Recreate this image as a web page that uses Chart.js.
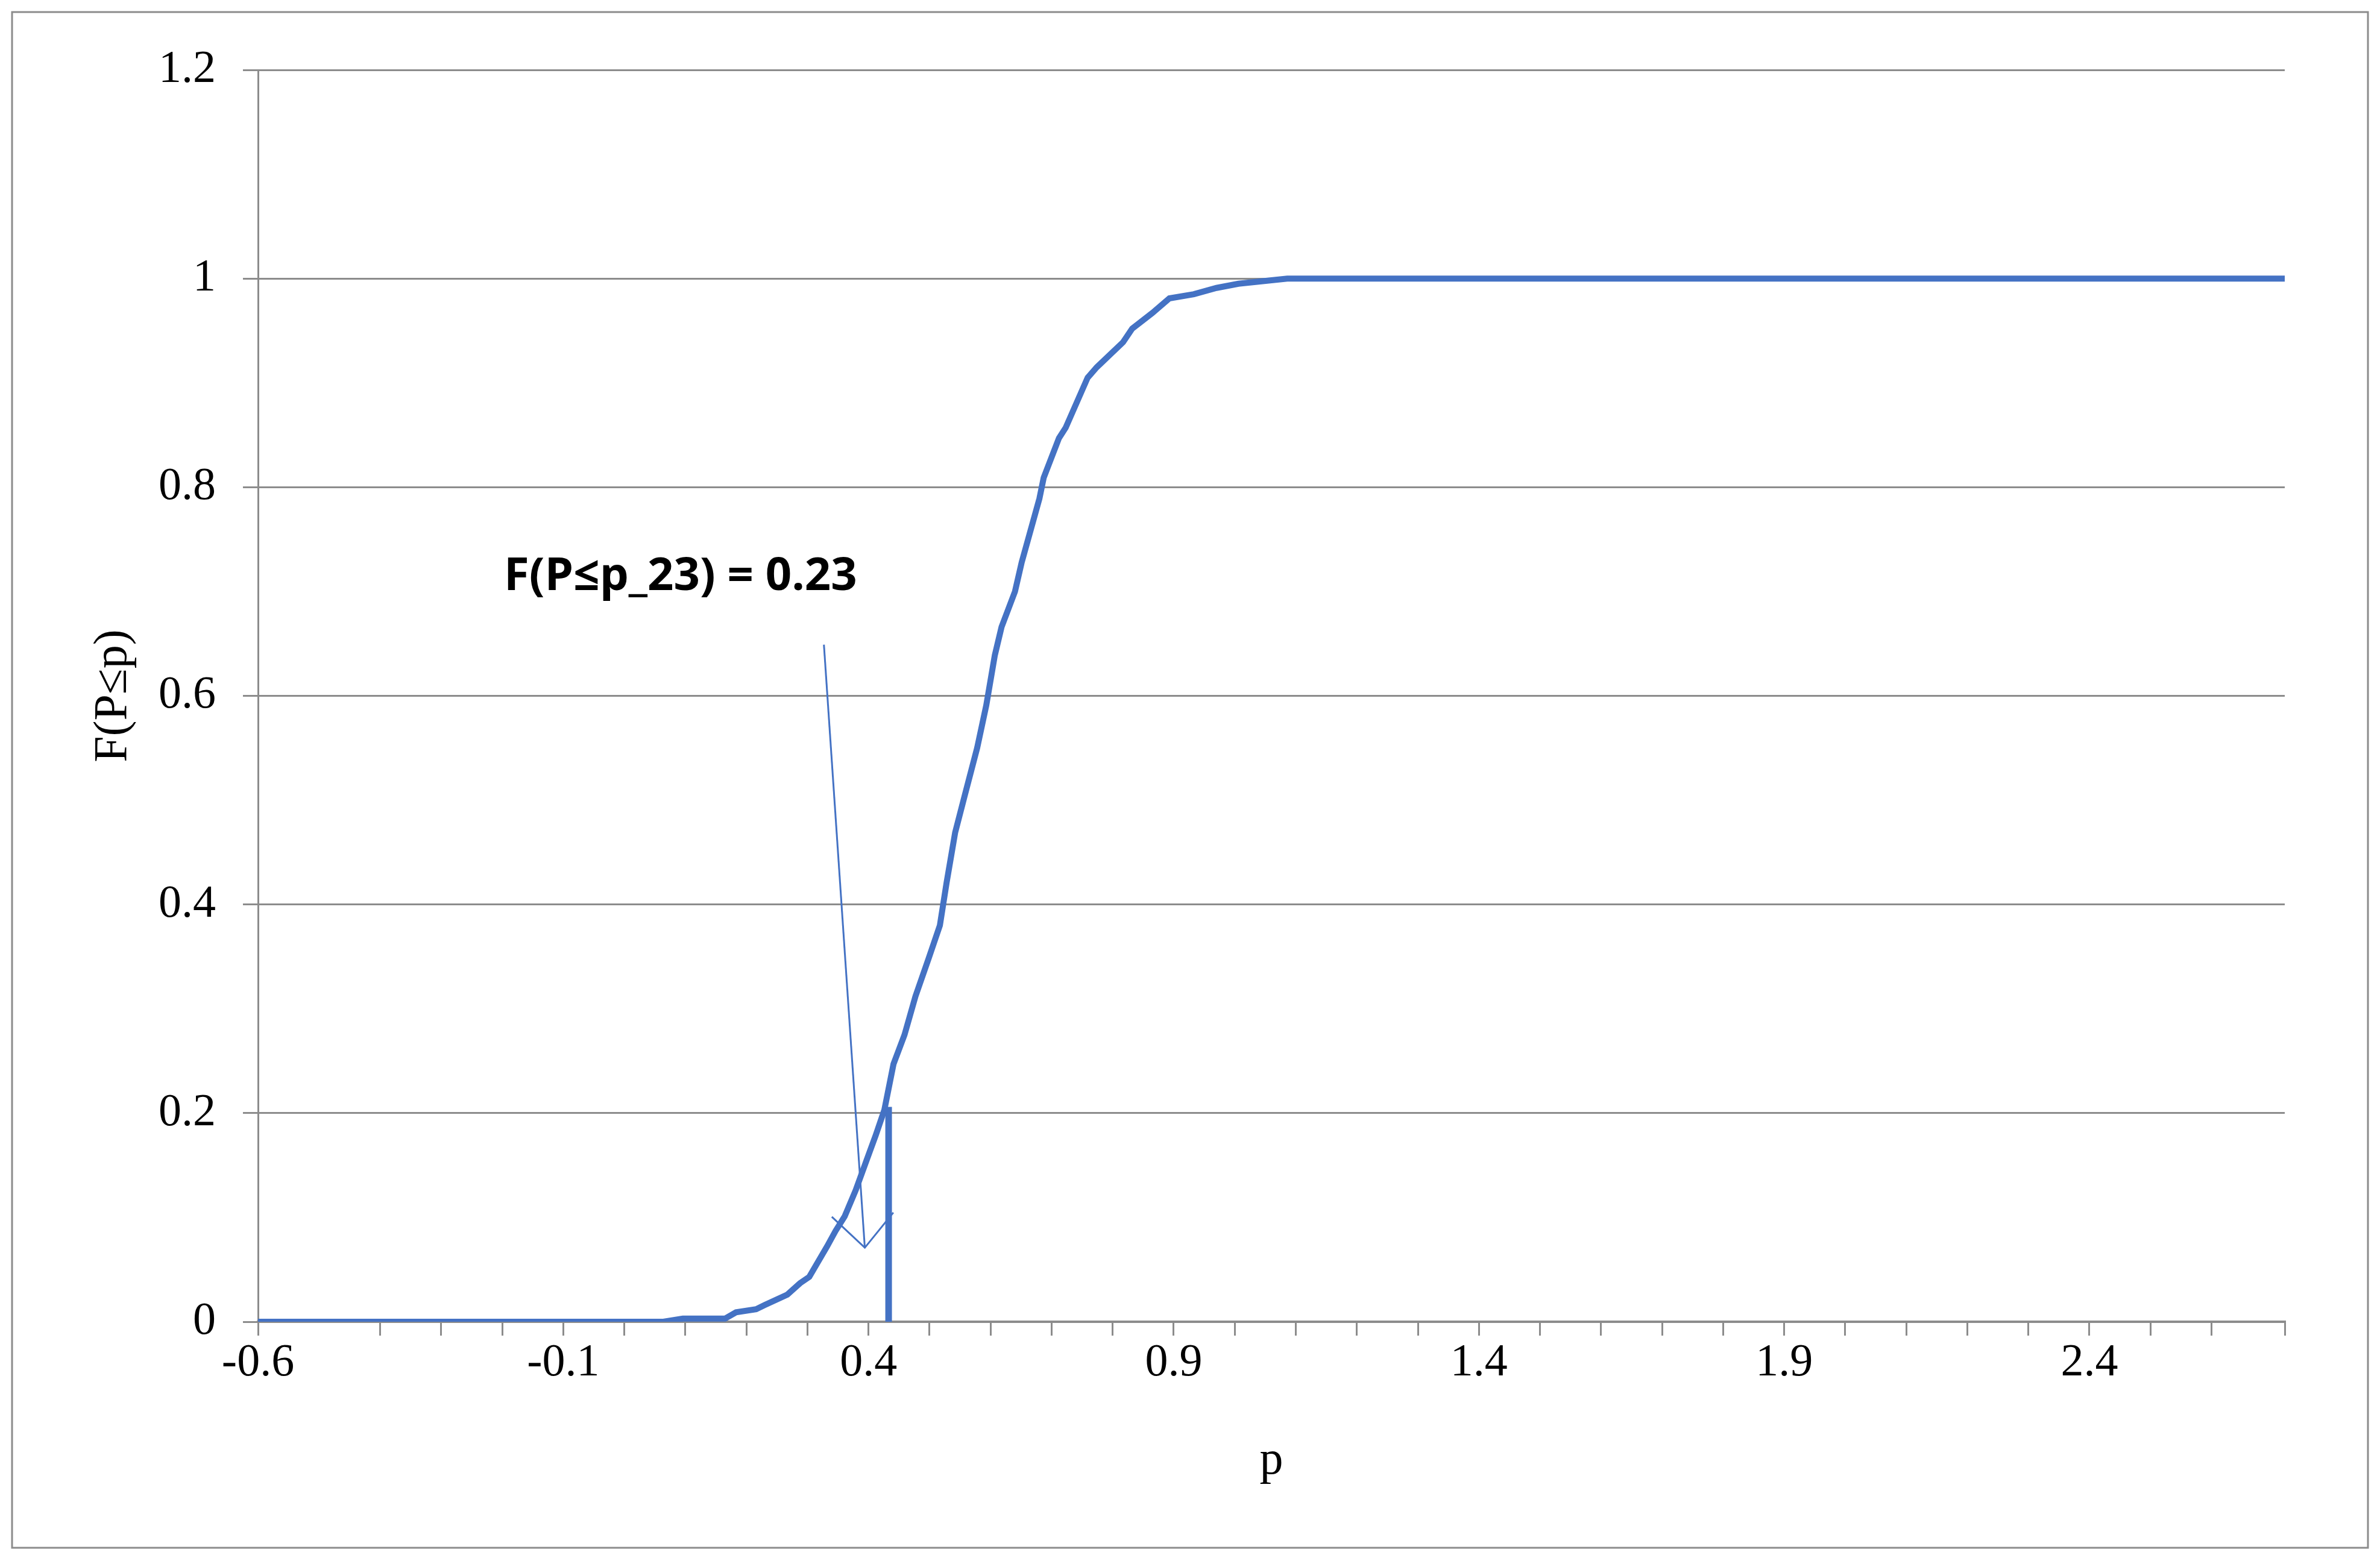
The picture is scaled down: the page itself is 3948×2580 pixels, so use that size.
<!DOCTYPE html>
<html>
<head>
<meta charset="utf-8">
<script src="https://cdn.jsdelivr.net/npm/chart.js@4/dist/chart.umd.min.js"></script>
<style>
  html, body { margin: 0; padding: 0; background: #fff; }
  #wrap { width: 3948px; height: 2580px; }
</style>
</head>
<body>
<div id="wrap"><canvas id="cdf"></canvas></div>
<script>
const pValues = [-0.6, 0.064, 0.096, 0.165, 0.183, 0.216, 0.23, 0.267, 0.288, 0.303, 0.332, 0.346, 0.361,
  0.379, 0.397, 0.412, 0.426, 0.441, 0.459, 0.477, 0.499, 0.517, 0.528, 0.542, 0.557, 0.578, 0.593,
  0.607, 0.618, 0.64, 0.651, 0.68, 0.687, 0.712, 0.723, 0.759, 0.774, 0.817, 0.832, 0.865, 0.893,
  0.933, 0.97, 1.006, 1.086, 2.72];
const fValues = [0, 0, 0.003, 0.003, 0.009, 0.012, 0.016, 0.026, 0.037, 0.043, 0.072, 0.087, 0.101,
  0.126, 0.155, 0.179, 0.203, 0.247, 0.275, 0.312, 0.349, 0.38, 0.421, 0.469, 0.503, 0.55, 0.591,
  0.639, 0.666, 0.7, 0.728, 0.789, 0.809, 0.847, 0.857, 0.905, 0.915, 0.939, 0.952, 0.967, 0.981,
  0.985, 0.991, 0.995, 1, 1];

const markerP = [0.433, 0.433];
const markerF = [0, 0.206];

const noteText = 'F(P≤p_23) = 0.23';
const notePos = [-0.197, 0.714];
const arrowFrom = [0.327, 0.649];
const arrowTo = [0.394, 0.071];

const blue = '#4472C4';
const grey = '#8c8c8c';

const annotate = {
  id: 'annotate',
  beforeDraw: (chart) => {
    const ctx = chart.ctx;
    ctx.save();
    ctx.fillStyle = '#fff';
    ctx.fillRect(0, 0, chart.width, chart.height);
    ctx.strokeStyle = grey;
    ctx.lineWidth = 3;
    ctx.strokeRect(20, 20, chart.width - 40, chart.height - 32);
    ctx.restore();
  },
  afterDatasetsDraw: (chart) => {
    const ctx = chart.ctx;
    const x = chart.scales.x;
    const y = chart.scales.y;
    ctx.save();
    ctx.fillStyle = '#000';
    ctx.font = 'bold 76px "Open Sans"';
    ctx.textBaseline = 'middle';
    ctx.fillText(noteText, x.getPixelForValue(notePos[0]), y.getPixelForValue(notePos[1]));

    const x0 = x.getPixelForValue(arrowFrom[0]), y0 = y.getPixelForValue(arrowFrom[1]);
    const x1 = x.getPixelForValue(arrowTo[0]), y1 = y.getPixelForValue(arrowTo[1]);
    ctx.strokeStyle = blue;
    ctx.lineWidth = 3;
    ctx.beginPath();
    ctx.moveTo(x0, y0);
    ctx.lineTo(x1, y1);
    ctx.stroke();
    // open arrow head
    const ang = Math.atan2(y1 - y0, x1 - x0);
    const len = 75;
    ctx.beginPath();
    ctx.moveTo(x1 - len * Math.cos(ang - 0.75), y1 - len * Math.sin(ang - 0.75));
    ctx.lineTo(x1, y1);
    ctx.lineTo(x1 - len * Math.cos(ang + 0.75), y1 - len * Math.sin(ang + 0.75));
    ctx.stroke();
    ctx.restore();
  }
};

const cdfPoints = pValues.map((p, i) => ({ x: p, y: fValues[i] }));
const markerPoints = markerP.map((p, i) => ({ x: p, y: markerF[i] }));

new Chart(document.getElementById('cdf'), {
  type: 'line',
  data: {
    datasets: [
      {
        data: cdfPoints,
        borderColor: blue,
        borderWidth: 10,
        pointRadius: 0,
        tension: 0,
      },
      {
        data: markerPoints,
        borderColor: blue,
        borderWidth: 11,
        pointRadius: 0,
        borderCapStyle: 'butt',
      },
    ],
  },
  plugins: [annotate],
  options: {
    responsive: true,
    maintainAspectRatio: false,
    animation: false,
    devicePixelRatio: 1,
    layout: { padding: { top: 116, right: 158, left: 138, bottom: 105 } },
    plugins: { legend: { display: false }, tooltip: { enabled: false } },
    scales: {
      x: {
        type: 'linear',
        min: -0.6,
        max: 2.72,
        afterFit: (s) => { s.height = 282; },
        border: { color: grey, width: 4 },
        grid: { drawOnChartArea: false, drawTicks: true, tickLength: 23, color: grey, lineWidth: 3 },
        ticks: {
          stepSize: 0.1,
          autoSkip: false,
          maxRotation: 0,
          padding: 0,
          color: '#000',
          font: { family: '"Liberation Serif"', size: 76 },
          callback: (v) => {
            const k = Math.round(v * 10);
            return Math.abs(v * 10 - k) < 1e-6 && (k + 6) % 5 === 0 ? (k / 10).toFixed(1) : '';
          },
        },
        title: {
          display: true,
          text: 'p',
          color: '#000',
          font: { family: '"Liberation Serif"', size: 78 },
          padding: { top: 0 },
        },
      },
      y: {
        min: 0,
        max: 1.2,
        afterFit: (s) => { s.width = 290; },
        border: { color: grey, width: 3 },
        grid: { color: grey, lineWidth: 3, tickLength: 25 },
        ticks: {
          stepSize: 0.2,
          padding: 45,
          color: '#000',
          font: { family: '"Liberation Serif"', size: 76 },
          callback: (v) => String(+v.toFixed(1)),
        },
        title: {
          display: true,
          text: 'F(P≤p)',
          color: '#000',
          font: { family: '"Liberation Serif"', size: 78 },
          padding: { bottom: 30 },
        },
      },
    },
  },
});
</script>
</body>
</html>
